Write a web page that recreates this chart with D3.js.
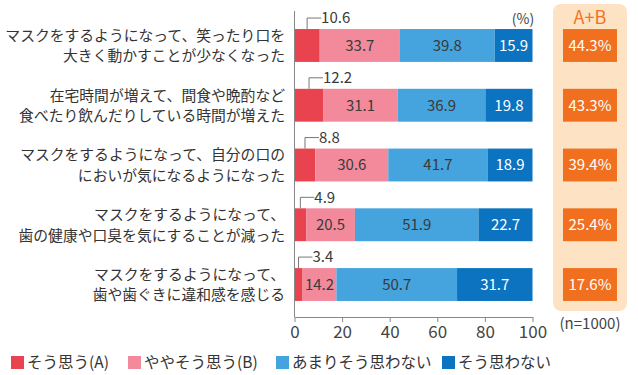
<!DOCTYPE html>
<html><head><meta charset="utf-8">
<script src="https://cdn.jsdelivr.net/npm/d3@7"></script>
<style>body{margin:0;background:#fff}svg{display:block}text{font-family:"Noto Sans CJK JP","Noto Sans",sans-serif}</style>
</head><body><svg id="c" width="638" height="375"></svg>
<script>
const categories = [
  ["マスクをするようになって、笑ったり口を","大きく動かすことが少なくなった"],
  ["在宅時間が増えて、間食や晩酌など","食べたり飲んだりしている時間が増えた"],
  ["マスクをするようになって、自分の口の","においが気になるようになった"],
  ["マスクをするようになって、","歯の健康や口臭を気にすることが減った"],
  ["マスクをするようになって、","歯や歯ぐきに違和感を感じる"]
];
const seriesNames = ["そう思う(A)","ややそう思う(B)","あまりそう思わない","そう思わない"];
const valuesA = [10.6, 12.2, 8.8, 4.9, 3.4];
const valuesB = [33.7, 31.1, 30.6, 20.5, 14.2];
const valuesC = [39.8, 36.9, 41.7, 51.9, 50.7];
const valuesD = [15.9, 19.8, 18.9, 22.7, 31.7];
const totalsAB = [44.3, 43.3, 39.4, 25.4, 17.6];
const xTicks = [0, 20, 40, 60, 80, 100];
const colors = ["#e8434f","#f28a9c","#45a3dd","#0b73c0"];
const labelColors = [null,"#3a3a3a","#3a3a3a","#ffffff"];

const svg = d3.select("#c");
const x = d3.scaleLinear().domain([0,100]).range([294.5,532.5]);
const y = d3.scaleBand().domain(d3.range(categories.length)).range([15.6,314.4]).paddingInner(0.45).paddingOuter(0.225);
const series = [valuesA, valuesB, valuesC, valuesD];

// A+B panel
svg.append("rect").attr("x",553).attr("y",4).attr("width",74).attr("height",307).attr("rx",8).attr("fill","#fde3c3");
svg.append("text").attr("x",590).attr("y",18).attr("dy","0.36em").attr("text-anchor","middle").attr("font-size",18).attr("fill","#ef7428").text("A+B");
const abG = svg.append("g");
totalsAB.forEach((v,i)=>{
  abG.append("rect").attr("x",563).attr("y",y(i)).attr("width",54).attr("height",y.bandwidth()).attr("fill","#f0701f");
  abG.append("text").attr("x",590).attr("y",y(i)+y.bandwidth()/2).attr("dy","0.36em").attr("text-anchor","middle").attr("font-size",15).attr("fill","#fff").text(v.toFixed(1)+"%");
});

// bars
categories.forEach((c,i)=>{
  let cum = 0;
  series.forEach((s,k)=>{
    const v = s[i];
    const x0 = x(cum), x1 = x(cum+v);
    svg.append("rect").attr("x",x0).attr("y",y(i)).attr("width",x1-x0).attr("height",y.bandwidth()).attr("fill",colors[k]);
    if (k>0) {
      svg.append("text").attr("x",(x0+x1)/2).attr("y",y(i)+y.bandwidth()/2).attr("dy","0.36em")
        .attr("text-anchor","middle").attr("font-size",15).attr("fill",labelColors[k]).text(v.toFixed(1));
    } else {
      const cx = (x0+x1)/2, ly = y(i)-11;
      svg.append("path").attr("d",`M${cx},${y(i)}V${ly}H${cx+14}`).attr("fill","none").attr("stroke","#777").attr("stroke-width",1);
      svg.append("text").attr("x",cx+14).attr("y",ly).attr("dy","0.36em").attr("font-size",15).attr("fill","#3a3a3a").text(v.toFixed(1));
    }
    cum += v;
  });
  // category labels
  const cy = y(i)+y.bandwidth()/2;
  c.forEach((line,j)=>{
    svg.append("text").attr("x",285).attr("y",cy+(j===0?-10:10.5)).attr("dy","0.36em").attr("text-anchor","end")
      .attr("font-size",14.8).attr("fill","#333").text(line);
  });
});

// axes
const axG = svg.append("g").attr("transform","translate(0,317)")
  .call(d3.axisBottom(x).tickValues(xTicks).tickSize(5).tickSizeOuter(0).tickPadding(4));
axG.select(".domain").attr("stroke","#888");
axG.selectAll(".tick line").attr("stroke","#888");
axG.selectAll(".tick text").attr("font-size",17).attr("fill","#444").attr("font-family","'Noto Sans CJK JP',sans-serif");
svg.append("line").attr("x1",x(0)).attr("x2",x(0)).attr("y1",11).attr("y2",317).attr("stroke","#888");

svg.append("text").attr("x",523).attr("y",19).attr("dy","0.36em").attr("text-anchor","middle").attr("font-size",14).attr("fill","#444").text("(%)");
svg.append("text").attr("x",590).attr("y",324).attr("dy","0.36em").attr("text-anchor","middle").attr("font-size",15).attr("fill","#444").text("(n=1000)");

// legend
const legX = [11, 128, 276, 442];
seriesNames.forEach((n,k)=>{
  svg.append("rect").attr("x",legX[k]).attr("y",356).attr("width",13).attr("height",13).attr("fill",colors[k]);
  svg.append("text").attr("x",legX[k]+16).attr("y",362.5).attr("dy","0.36em").attr("font-size",15.5).attr("fill","#333").text(n);
});
</script></body></html>
